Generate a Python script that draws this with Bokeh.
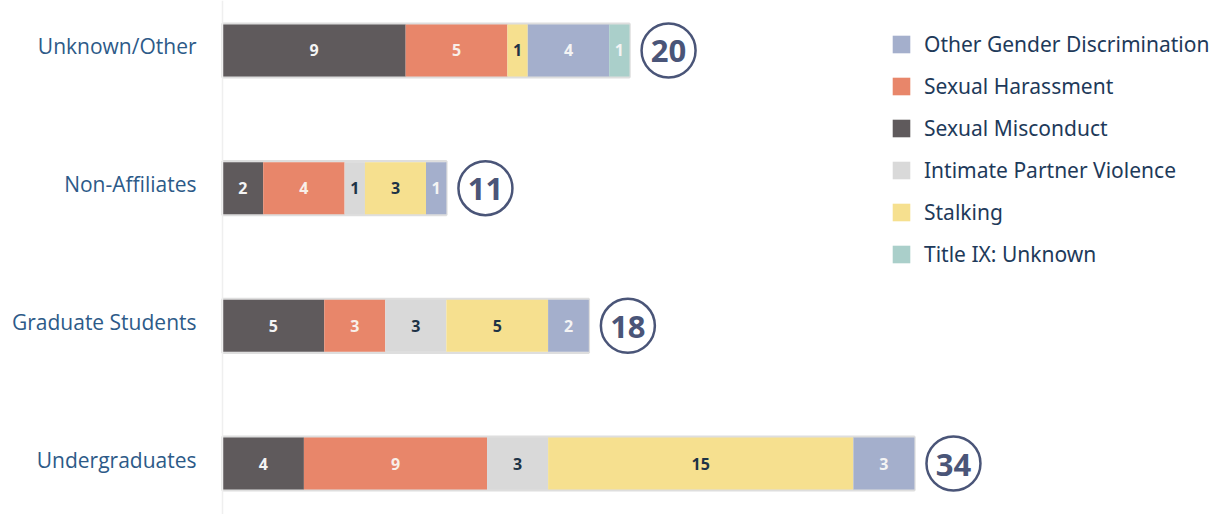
from bokeh.plotting import figure
from bokeh.models import ColumnDataSource, Range1d, Legend, LegendItem, Span
from bokeh.core.properties import value
from bokeh.embed import file_html
from bokeh.resources import INLINE

categories = ["Unknown/Other", "Non-Affiliates", "Graduate Students", "Undergraduates"]
sexual_misconduct = [9, 2, 5, 4]
sexual_harassment = [5, 4, 3, 9]
intimate_partner_violence = [0, 1, 3, 3]
stalking = [1, 3, 5, 15]
other_gender_discrimination = [4, 1, 2, 3]
title_ix_unknown = [1, 0, 0, 0]

series_keys = ["sm", "sh", "ipv", "st", "ogd", "t9"]
series_names = ["Sexual Misconduct", "Sexual Harassment", "Intimate Partner Violence",
                "Stalking", "Other Gender Discrimination", "Title IX: Unknown"]
series_vals = [sexual_misconduct, sexual_harassment, intimate_partner_violence,
               stalking, other_gender_discrimination, title_ix_unknown]
colors = ["#5f5a5c", "#e8866a", "#d9d9d9", "#f6e08f", "#a4afcc", "#aacfca"]
label_colors = ["#f4f4f4", "#f8efe9", "#1e3346", "#1e3346", "#f4f4f4", "#f4f4f4"]
legend_order = ["Other Gender Discrimination", "Sexual Harassment", "Sexual Misconduct",
                "Intimate Partner Violence", "Stalking", "Title IX: Unknown"]

n = len(categories)
ypos = [n - 0.5 - i for i in range(n)]
totals = [sum(v[i] for v in series_vals) for i in range(n)]

W, H = 1213, 514
pxu = 20.35
x0_px = 222
x_start = -x0_px / pxu
x_end = (W - x0_px) / pxu
ypx = 137.67
y_start = 0.5 - (H - 463) / ypx
y_end = 3.5 + 50 / ypx

p = figure(width=W, height=H, output_backend="svg", toolbar_location=None,
           x_range=Range1d(x_start, x_end), y_range=Range1d(y_start, y_end),
           min_border=0, outline_line_color=None)
p.axis.visible = False
p.grid.visible = False
p.background_fill_color = "white"

p.add_layout(Span(location=0, dimension="height", line_color="#efefef", line_width=1.5))

data = {"y": ypos, "total": totals, "cat": categories}
for k, v in zip(series_keys, series_vals):
    data[k] = v
src = ColumnDataSource(data)

bh = 0.378
# light frame around each bar
p.hbar(y="y", left=0, right="total", height=bh + 0.012, source=src,
       fill_color="white", line_color="#dedede", line_width=2.5)

rends = p.hbar_stack(series_keys, y="y", height=bh, color=colors, source=src, line_width=0)

# segment labels
lx, ly, lt, lc = [], [], [], []
for i in range(n):
    cum = 0
    for v, c in zip(series_vals, label_colors):
        val = v[i]
        if val > 0:
            lx.append(cum + val / 2)
            ly.append(ypos[i])
            lt.append(str(val))
            lc.append(c)
        cum += val
p.text(x=lx, y=ly, text=lt, text_color=lc, text_align="center", text_baseline="middle",
       text_font=value("Open Sans"), text_font_style="bold", text_font_size="16px")

# totals in circles
cx = [t + 1.92 for t in totals]
p.scatter(x=cx, y=ypos, marker="circle", size=54, fill_color="white",
          line_color="#4a5578", line_width=2.5)
p.text(x=cx, y=ypos, text=[str(t) for t in totals], text_color="#4a5578",
       text_align="center", text_baseline="middle", text_font=value("Open Sans"),
       text_font_style="bold", text_font_size="31px", y_offset=1)

# category labels
p.text(x=[0] * n, y=ypos, text=categories, x_offset=-26, y_offset=-4, text_align="right",
       text_baseline="middle", text_color="#2d5a88", text_font=value("Open Sans"),
       text_font_size="21px")

name_to_r = dict(zip(series_names, rends))
items = [LegendItem(label=nm, renderers=[name_to_r[nm]]) for nm in legend_order]
legend = Legend(items=items, location=(890, 246), orientation="vertical",
                glyph_width=22, glyph_height=22, label_height=28, spacing=14,
                label_standoff=12, padding=0, margin=0,
                label_text_font="Noto Sans", label_text_font_size="21px",
                label_text_color="#1e3a5a", border_line_alpha=0,
                background_fill_alpha=0, label_text_baseline="middle")
p.add_layout(legend)

open("out.html", "w").write(file_html(p, INLINE))
